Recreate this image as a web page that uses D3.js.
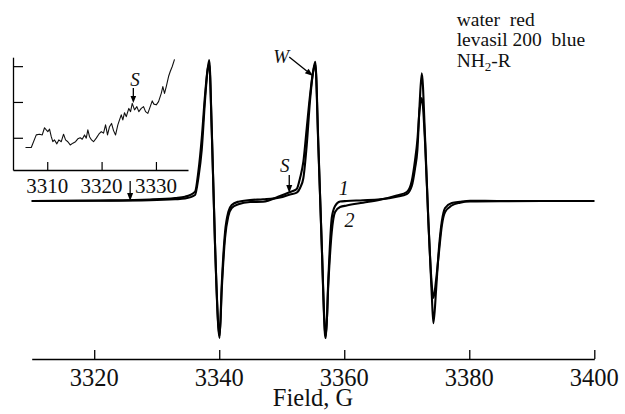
<!DOCTYPE html>
<html><head><meta charset="utf-8">
<script src="https://cdn.jsdelivr.net/npm/d3@7"></script>
<style>
html,body{margin:0;padding:0;background:#fff;}
svg{display:block;}
svg text{font-family:"Liberation Serif","Times New Roman",serif;}
</style></head><body>
<svg id="chart" width="625" height="414"></svg>
<script>
// ---- main spectrum data (field in G, signal in arbitrary units) ----
const field1 = [3310.00, 3320.93, 3328.93, 3332.93, 3334.53, 3336.13, 3336.66, 3337.20, 3337.73, 3338.13, 3338.40, 3338.80, 3339.33, 3339.86, 3340.05, 3340.40, 3340.93, 3341.46, 3342.00, 3343.06, 3344.93, 3347.01, 3349.73, 3351.33, 3352.40, 3352.93, 3353.46, 3354.00, 3354.53, 3355.01, 3355.36, 3355.86, 3356.40, 3356.93, 3357.06, 3357.46, 3358.00, 3358.53, 3359.33, 3360.40, 3363.01, 3365.73, 3368.40, 3370.00, 3370.80, 3371.33, 3371.70, 3372.05, 3372.40, 3372.93, 3373.46, 3374.00, 3374.26, 3374.69, 3375.06, 3375.60, 3376.13, 3377.20, 3378.53, 3380.13, 3384.93, 3400.00];
const signal1 = [0, 0.2, 0.7, 1.7, 2.5, 6, 23, 51, 101, 131, 141, 73, -44, -127, -137, -84, -31, -10.7, -4, -0.7, 1, 1.7, 3.5, 6.5, 8.3, 13, 23, 56, 101, 129, 139.3, 56, -44, -134, -137, -77, -17, -5, -0.5, 0, 0.7, 1.7, 4.3, 7, 15, 33, 51, 96, 127.7, 63, -20.7, -94, -122.3, -89, -54, -20.7, -7, -2, -0.7, 0.3, 0, 0];
const field2 = [3310.00, 3320.93, 3328.93, 3332.93, 3334.53, 3336.13, 3336.66, 3337.20, 3337.73, 3338.13, 3338.40, 3338.80, 3339.33, 3339.86, 3340.06, 3340.40, 3340.93, 3341.46, 3342.00, 3343.06, 3344.93, 3347.01, 3349.73, 3351.33, 3352.40, 3352.93, 3353.46, 3354.00, 3354.53, 3355.01, 3355.36, 3355.86, 3356.40, 3356.93, 3357.06, 3357.46, 3358.00, 3358.53, 3359.33, 3360.40, 3363.01, 3365.73, 3368.40, 3370.00, 3370.80, 3371.33, 3371.70, 3372.05, 3372.40, 3372.93, 3373.46, 3374.00, 3374.26, 3374.69, 3375.06, 3375.60, 3376.13, 3377.20, 3378.53, 3380.13, 3384.93, 3400.00];
const signal2 = [0, 0.5, 1.5, 3, 4.3, 9.3, 29.3, 62.7, 106, 131, 137, 71, -44, -125, -135, -89, -37, -15, -7, -3.3, -1, -0.7, 5, 9, 12, 23, 39.3, 73, 106, 129, 137, 53, -44, -131, -135, -82, -31, -11, -6, -4.5, -1.7, 1.2, 5.5, 9, 20, 41, 61, 91, 103, 58, -21, -84, -97, -79, -57, -25, -11, -4.5, -1.7, -0.5, -0.2, 0];
const mainTicks = [3320, 3340, 3360, 3380, 3400];

// ---- inset data ----
const insetField = [3306.0, 3307.06, 3307.98, 3308.58, 3309.08, 3309.50, 3309.82, 3310.11, 3310.42, 3310.74, 3311.03, 3311.34, 3311.77, 3312.13, 3312.58, 3313.00, 3313.37, 3313.79, 3314.23, 3314.71, 3315.21, 3315.63, 3316.07, 3316.44, 3316.86, 3317.18, 3317.47, 3317.78, 3318.15, 3318.52, 3319.02, 3319.49, 3319.94, 3320.36, 3320.73, 3321.09, 3321.46, 3321.83, 3322.20, 3322.57, 3322.99, 3323.30, 3323.62, 3323.91, 3324.22, 3324.54, 3325.01, 3325.33, 3325.64, 3326.06, 3326.49, 3326.85, 3327.30, 3327.72, 3328.09, 3328.51, 3328.95, 3329.32, 3329.61, 3330.06, 3330.48, 3330.98, 3331.27, 3331.58, 3331.90, 3332.32, 3332.63, 3333.00, 3333.42];
const insetSignal = [0.73, 0.73, 1.08, 1.10, 1.08, 1.28, 1.22, 1.17, 1.24, 1.03, 0.89, 0.94, 0.83, 0.94, 0.89, 1.10, 0.94, 0.89, 0.80, 0.85, 0.89, 0.97, 1.00, 0.96, 1.08, 0.99, 1.22, 1.03, 0.94, 0.89, 0.99, 1.10, 1.17, 1.13, 1.36, 1.08, 1.31, 1.40, 1.20, 1.08, 1.36, 1.50, 1.64, 1.50, 1.70, 1.59, 1.82, 1.73, 1.96, 1.78, 1.87, 1.73, 1.82, 1.87, 1.73, 1.68, 1.87, 2.03, 1.94, 1.92, 2.01, 2.24, 2.43, 2.24, 2.43, 2.71, 2.85, 2.99, 3.19];
const insetXTicks = [3310, 3320, 3330];
const insetYTicks = [1, 2, 3];

const legendLines = ["water  red", "levasil 200  blue"];

const svg = d3.select("#chart");

// ---- main chart ----
const x = d3.scaleLinear().domain([3310, 3400]).range([31.7, 594.3]);
const y = d3.scaleLinear().domain([-160, 160]).range([361, 41]);

const gx = svg.append("g").attr("transform", "translate(0,359)")
  .call(d3.axisBottom(x).tickValues(mainTicks).tickFormat("")
    .tickSizeInner(-9).tickSizeOuter(0));
gx.select(".domain").attr("stroke", "#000").attr("stroke-width", 1.5);
gx.selectAll(".tick line").attr("stroke", "#000").attr("stroke-width", 1.3);
gx.selectAll(".tick text").remove();

svg.append("g").selectAll("text").data(mainTicks).join("text")
  .attr("x", d => x(d)).attr("y", 386).attr("text-anchor", "middle")
  .style("font-size", "24.5px").attr("fill", "#111").text(d => d3.format("d")(d));

svg.append("text").attr("x", (x.range()[0] + x.range()[1]) / 2).attr("y", 406)
  .attr("text-anchor", "middle").style("font-size", "24.5px")
  .attr("fill", "#111").text("Field, G");

const line = d3.line().x(d => x(d[0])).y(d => y(d[1])).curve(d3.curveMonotoneX);
svg.append("path").datum(d3.zip(field2, signal2)).attr("d", line)
  .attr("fill", "none").attr("stroke", "#000").attr("stroke-width", 2.1).attr("stroke-linejoin", "round");
svg.append("path").datum(d3.zip(field1, signal1)).attr("d", line)
  .attr("fill", "none").attr("stroke", "#000").attr("stroke-width", 2.1).attr("stroke-linejoin", "round");

// ---- inset ----
const xi = d3.scaleLinear().domain([3303.7, 3335.9]).range([13, 188]);
const yi = d3.scaleLinear().domain([0.1, 3.25]).range([170, 57.2]);

const gxi = svg.append("g").attr("transform", "translate(0,170)")
  .call(d3.axisBottom(xi).tickValues(insetXTicks).tickFormat("")
    .tickSizeInner(-8).tickSizeOuter(0));
gxi.select(".domain").attr("stroke", "#000").attr("stroke-width", 1.3);
gxi.selectAll(".tick line").attr("stroke", "#000").attr("stroke-width", 1.2);
gxi.selectAll(".tick text").remove();

svg.append("g").selectAll("text").data(insetXTicks).join("text")
  .attr("x", d => xi(d)).attr("y", 193).attr("text-anchor", "middle")
  .style("font-size", "21px").attr("fill", "#111").text(d => d3.format("d")(d));

const gyi = svg.append("g").attr("transform", "translate(13,0)")
  .call(d3.axisLeft(yi).tickValues(insetYTicks).tickFormat("")
    .tickSizeInner(-10).tickSizeOuter(0));
gyi.select(".domain").attr("stroke", "#000").attr("stroke-width", 1.3);
gyi.selectAll(".tick line").attr("stroke", "#000").attr("stroke-width", 1.2);
gyi.selectAll(".tick text").remove();

const iline = d3.line().x(d => xi(d[0])).y(d => yi(d[1]));
svg.append("path").datum(d3.zip(insetField, insetSignal)).attr("d", iline)
  .attr("fill", "none").attr("stroke", "#111").attr("stroke-width", 1.1).attr("stroke-linejoin", "round");

// ---- annotations ----
function arrow(x1, y1, x2, y2, len = 8, hw = 3) {
  const dx = x2 - x1, dy = y2 - y1, L = Math.hypot(dx, dy);
  const ux = dx / L, uy = dy / L;
  const bx = x2 - ux * len, by = y2 - uy * len;
  svg.append("line").attr("x1", x1).attr("y1", y1).attr("x2", bx).attr("y2", by)
    .attr("stroke", "#000").attr("stroke-width", 1.3);
  svg.append("path")
    .attr("d", `M${x2},${y2}L${bx - uy * hw},${by + ux * hw}L${bx + uy * hw},${by - ux * hw}Z`)
    .attr("fill", "#000");
}
function label(px, py, txt, size = 19, italic = true) {
  svg.append("text").attr("x", px).attr("y", py).attr("text-anchor", "middle")
    .style("font-size", size + "px")
    .attr("font-style", italic ? "italic" : "normal").attr("fill", "#111").text(txt);
}

// main S marker near 3326 G on baseline
arrow(x(3325.75), y(20), x(3325.75), y(0));
// S near 3351 G
label(x(3350.5), y(29), "S");
arrow(x(3351.2), y(26), x(3351.2), y(8));
// W
label(x(3349.9), y(137.7), "W");
arrow(x(3351.2), y(144), x(3355.0), y(125));
// curve numbers
label(x(3359.9), y(6), "1", 20);
label(x(3360.85), y(-26), "2", 20);
// inset S
label(xi(3326.15), yi(2.45), "S");
arrow(xi(3325.84), yi(2.39), xi(3325.84), yi(1.97), 7, 2.8);

// ---- legend text ----
const lg = svg.append("g").attr("fill", "#111");
legendLines.forEach((t, i) => {
  lg.append("text").attr("x", 456.7).attr("y", 26 + i * 20.4)
    .style("font-size", "19.5px").style("white-space", "pre").text(t);
});
const nh = lg.append("text").attr("x", 456.7).attr("y", 66.8).style("font-size", "19.5px");
nh.append("tspan").text("NH");
nh.append("tspan").style("font-size", "13px").attr("dy", 4).text("2");
nh.append("tspan").attr("dy", -4).text("-R");
</script>
</body></html>
